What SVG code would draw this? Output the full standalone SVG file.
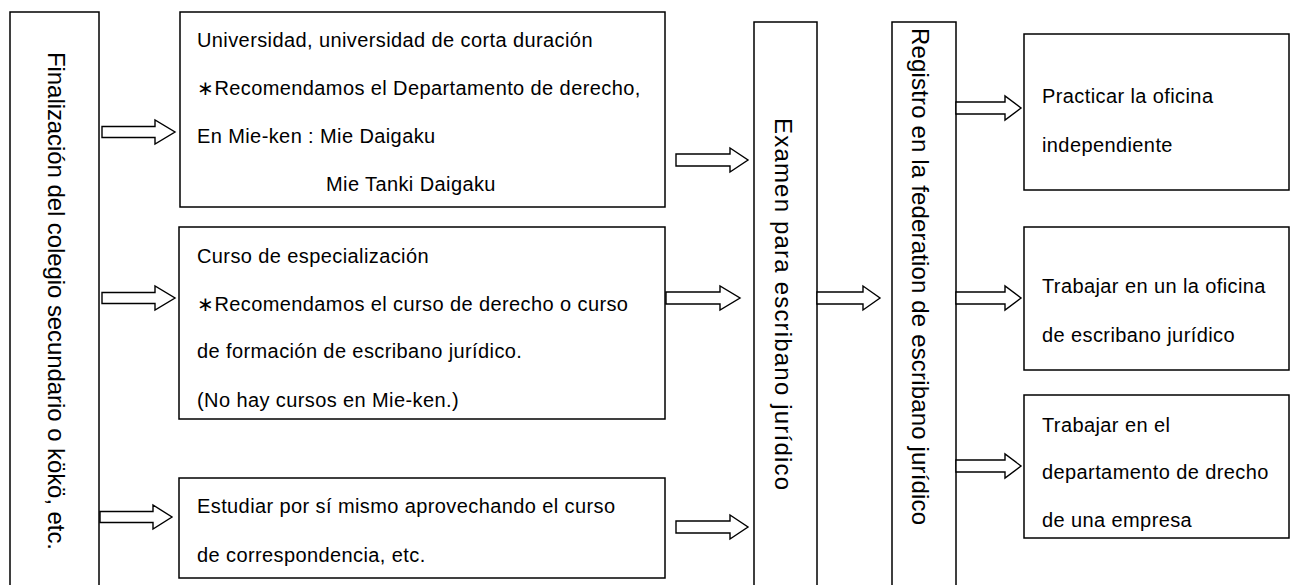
<svg xmlns="http://www.w3.org/2000/svg" width="1295" height="585" viewBox="0 0 1295 585">
<style>
.box{fill:#fff;stroke:#000;stroke-width:1.5}
.arr{fill:#fff;stroke:#000;stroke-width:1.4;stroke-linejoin:miter}
.t{font-family:"Liberation Sans",Arial,sans-serif;font-size:20px;letter-spacing:0.4px;fill:#000}
.v{font-family:"Liberation Sans",Arial,sans-serif;font-size:24px;fill:#000}
</style>
<rect width="1295" height="585" fill="#fff"/>
<g id="n-finalizacion">
<rect class="box" x="10" y="12" width="89" height="600"/>
<text class="v" transform="translate(48,52) rotate(90)" textLength="498" lengthAdjust="spacing">Finalización del colegio secundario o kökö, etc.</text>
</g>
<g id="n-universidad">
<rect class="box" x="180" y="12" width="485" height="195"/>
<text class="t" x="197" y="47">Universidad, universidad de corta duración</text>
<text class="t" x="197" y="95">∗Recomendamos el Departamento de derecho,</text>
<text class="t" x="197" y="143">En Mie-ken : Mie Daigaku</text>
<text class="t" x="326" y="191">Mie Tanki Daigaku</text>
</g>
<g id="n-curso">
<rect class="box" x="179" y="227" width="486" height="192"/>
<text class="t" x="197" y="263">Curso de especialización</text>
<text class="t" x="197" y="311">∗Recomendamos el curso de derecho o curso</text>
<text class="t" x="197" y="358">de formación de escribano jurídico.</text>
<text class="t" x="197" y="407">(No hay cursos en Mie-ken.)</text>
</g>
<g id="n-estudiar">
<rect class="box" x="179" y="478" width="486" height="100"/>
<text class="t" x="197" y="513">Estudiar por sí mismo aprovechando el curso</text>
<text class="t" x="197" y="562">de correspondencia, etc.</text>
</g>
<g id="n-examen">
<rect class="box" x="754" y="22" width="63" height="600"/>
<text class="v" transform="translate(775,118) rotate(90)" textLength="372" lengthAdjust="spacing">Examen para escribano jurídico</text>
</g>
<g id="n-registro">
<rect class="box" x="892" y="22" width="64" height="600"/>
<text class="v" transform="translate(912,28) rotate(90)" textLength="497" lengthAdjust="spacing">Registro en la federation de escribano jurídico</text>
</g>
<g id="n-practicar">
<rect class="box" x="1024" y="34" width="265" height="156"/>
<text class="t" x="1042" y="103">Practicar la oficina</text>
<text class="t" x="1042" y="152">independiente</text>
</g>
<g id="n-trabajar-oficina">
<rect class="box" x="1024" y="227" width="265" height="143"/>
<text class="t" x="1042" y="293">Trabajar en un la oficina</text>
<text class="t" x="1042" y="342">de escribano jurídico</text>
</g>
<g id="n-trabajar-empresa">
<rect class="box" x="1024" y="395" width="265" height="143"/>
<text class="t" x="1042" y="432">Trabajar en el</text>
<text class="t" x="1042" y="479">departamento de drecho</text>
<text class="t" x="1042" y="527">de una empresa</text>
</g>
<g id="connectors">
<path class="arr" d="M102,126.5H155V120L175,132L155,144V137.5H102Z"/>
<path class="arr" d="M102,292.5H155V286L175,298L155,310V303.5H102Z"/>
<path class="arr" d="M100,511.5H153V505L172,517L153,529V522.5H100Z"/>
<path class="arr" d="M676,154H730V148L748,160L730,172V166H676Z"/>
<path class="arr" d="M666,292H720V286L740,298L720,310V304H666Z"/>
<path class="arr" d="M676,521H730V515L748,527L730,539V533H676Z"/>
<path class="arr" d="M817,292H863V286L880,298L863,310V304H817Z"/>
<path class="arr" d="M956,102H1005V96L1021,108L1005,120V114H956Z"/>
<path class="arr" d="M956,292H1005V286L1021,298L1005,310V304H956Z"/>
<path class="arr" d="M956,460H1005V454L1021,466L1005,478V472H956Z"/>
</g>
</svg>
